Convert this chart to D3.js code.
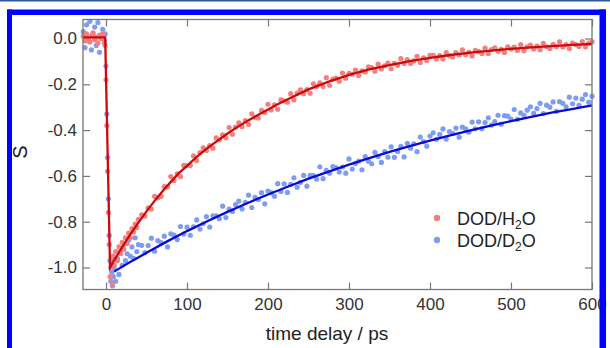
<!DOCTYPE html>
<html>
<head>
<meta charset="utf-8">
<script src="https://cdn.jsdelivr.net/npm/d3@7"></script>
<style>
  html, body { margin: 0; padding: 0; background: #fff; }
  svg { display: block; }
  text { font-family: "Liberation Sans", Arial, Helvetica, sans-serif; }
</style>
</head>
<body>
<div id="chart"></div>
<script>
// delay times (ps), shared by both series
const times = [
  -28, -26, -24, -22, -20, -18, -16, -14, -12, -10, -8, -6, -4, -2,
  -1, 0, 1, 2, 3, 4, 5, 6, 7, 8, 9, 10,
  12, 14, 16, 18, 20, 22, 24, 26, 28, 30, 32, 34, 36, 38, 40,
  44, 48, 52, 56, 60, 64, 68, 72, 76, 80, 84, 88, 92, 96, 100, 104, 108, 112, 116, 120,
  124, 128, 132, 136, 140, 144, 148, 152, 156, 160, 164, 168, 172, 176, 180, 184, 188, 192, 196, 200,
  204, 208, 212, 216, 220, 224, 228, 232, 236, 240, 244, 248, 252, 256, 260, 264, 268, 272, 276, 280,
  284, 288, 292, 296, 300, 304, 308, 312, 316, 320, 324, 328, 332, 336, 340, 344, 348, 352, 356, 360,
  364, 368, 372, 376, 380, 384, 388, 392, 396, 400, 404, 408, 412, 416, 420, 424, 428, 432, 436, 440,
  444, 448, 452, 456, 460, 464, 468, 472, 476, 480, 484, 488, 492, 496, 500, 504, 508, 512, 516, 520,
  524, 528, 532, 536, 540, 544, 548, 552, 556, 560, 564, 568, 572, 576, 580, 584, 588, 592, 596, 600
];

// DOD/H2O anisotropy S
const h2oValues = [
  0.010, -0.010, 0.020, 0.000, -0.015, 0.010, 0.025, -0.005, 0.005, -0.020, 0.015, 0.000, 0.020, -0.010,
  -0.030, -0.180, -0.380, -0.580, -0.760, -0.900, -1.040, -1.000, -0.960, -1.070, -0.950, -0.990,
  -0.930, -0.970, -0.910, -0.940, -0.890, -0.920, -0.870, -0.895, -0.850, -0.870, -0.830, -0.845, -0.810, -0.825, -0.790,
  -0.770, -0.775, -0.740, -0.745, -0.689, -0.695, -0.689, -0.647, -0.648, -0.603,
  -0.620, -0.591, -0.603, -0.554, -0.555, -0.555, -0.512, -0.533, -0.498, -0.478,
  -0.489, -0.468, -0.479, -0.434, -0.442, -0.421, -0.433, -0.389, -0.418, -0.387,
  -0.368, -0.385, -0.359, -0.375, -0.329, -0.344, -0.347, -0.314, -0.323, -0.287,
  -0.312, -0.290, -0.309, -0.268, -0.272, -0.278, -0.241, -0.268, -0.238, -0.224,
  -0.241, -0.223, -0.239, -0.198, -0.210, -0.194, -0.210, -0.171, -0.204, -0.177,
  -0.173, -0.187, -0.151, -0.173, -0.152, -0.156, -0.138, -0.162, -0.141, -0.146,
  -0.124, -0.127, -0.143, -0.112, -0.133, -0.119, -0.107, -0.132, -0.109, -0.117,
  -0.088, -0.109, -0.092, -0.109, -0.098, -0.078, -0.105, -0.084, -0.096, -0.074,
  -0.073, -0.089, -0.075, -0.090, -0.061, -0.075, -0.081, -0.061, -0.072, -0.050,
  -0.071, -0.060, -0.076, -0.052, -0.057, -0.065, -0.042, -0.065, -0.048, -0.041,
  -0.056, -0.047, -0.061, -0.036, -0.046, -0.038, -0.052, -0.027, -0.053, -0.036,
  -0.029, -0.046, -0.033, -0.049, -0.021, -0.036, -0.044, -0.025, -0.036, -0.015,
  -0.037, -0.027, -0.044, -0.020, -0.027, -0.035, -0.013, -0.037, -0.020, -0.014
];

// DOD/D2O anisotropy S
const d2oValues = [
  0.030, -0.040, 0.060, -0.010, 0.075, -0.050, 0.020, 0.050, -0.030, 0.070, -0.060, 0.010, 0.040, -0.020,
  0.020, -0.120, -0.330, -0.520, -0.700, -0.860, -0.970, -1.060, -1.020, -1.080, -1.040, -1.000,
  -1.060, -0.960, -1.030, -0.930, -0.990, -0.900, -0.970, -0.940, -0.880, -0.950, -0.910, -0.960, -0.870, -0.930, -0.900,
  -0.903, -0.935, -0.904, -0.872, -0.929, -0.883, -0.891, -0.863, -0.910, -0.853,
  -0.858, -0.878, -0.821, -0.854, -0.824, -0.859, -0.822, -0.792, -0.832, -0.809,
  -0.778, -0.823, -0.774, -0.774, -0.787, -0.732, -0.782, -0.745, -0.755, -0.725,
  -0.710, -0.744, -0.715, -0.684, -0.738, -0.694, -0.703, -0.673, -0.722, -0.666,
  -0.673, -0.689, -0.634, -0.668, -0.635, -0.672, -0.637, -0.608, -0.649, -0.628,
  -0.598, -0.645, -0.598, -0.599, -0.614, -0.560, -0.612, -0.576, -0.588, -0.559,
  -0.564, -0.583, -0.561, -0.588, -0.526, -0.570, -0.546, -0.535, -0.573, -0.516,
  -0.536, -0.547, -0.497, -0.515, -0.541, -0.494, -0.518, -0.473, -0.519, -0.493,
  -0.471, -0.517, -0.458, -0.479, -0.460, -0.494, -0.430, -0.450, -0.470, -0.426,
  -0.412, -0.440, -0.419, -0.395, -0.439, -0.406, -0.414, -0.391, -0.431, -0.387,
  -0.394, -0.409, -0.365, -0.394, -0.364, -0.394, -0.367, -0.346, -0.378, -0.363,
  -0.335, -0.374, -0.337, -0.339, -0.352, -0.310, -0.353, -0.325, -0.335, -0.313,
  -0.298, -0.327, -0.306, -0.283, -0.328, -0.291, -0.300, -0.277, -0.318, -0.276,
  -0.283, -0.298, -0.256, -0.285, -0.260, -0.292, -0.265, -0.245, -0.278, -0.252
];

// fitted curves
const h2oFitTimes = [-28, -1, 5, 10, 20, 30, 40, 50, 60, 70, 80, 90, 100, 112, 125, 137, 150, 162, 175, 187,
  200, 212, 225, 237, 250, 275, 300, 325, 350, 375, 400, 425, 450, 475, 500, 525, 550, 575, 600];
const h2oFit = [0.005, 0.005, -1.0, -0.969, -0.911, -0.855, -0.804, -0.755, -0.709, -0.666, -0.626, -0.588,
  -0.556, -0.517, -0.479, -0.448, -0.415, -0.387, -0.359, -0.335, -0.310, -0.287, -0.264, -0.244, -0.222,
  -0.188, -0.159, -0.135, -0.116, -0.099, -0.085, -0.072, -0.062, -0.053, -0.045, -0.039, -0.033, -0.028, -0.024];

const d2oFitTimes = [10, 25, 50, 75, 100, 125, 150, 175, 200, 225, 250, 275, 300, 325, 350, 375, 400,
  425, 450, 475, 500, 525, 550, 575, 600];
const d2oFit = [-1.018, -0.986, -0.936, -0.887, -0.841, -0.798, -0.757, -0.718, -0.681, -0.646, -0.612,
  -0.581, -0.551, -0.522, -0.495, -0.470, -0.446, -0.423, -0.401, -0.380, -0.361, -0.342, -0.324, -0.308, -0.292];

const xTicks = [0, 100, 200, 300, 400, 500, 600];
const yTicks = [0.0, -0.2, -0.4, -0.6, -0.8, -1.0];

const W = 610, H = 348;
const plot = { left: 83, right: 592, top: 19.5, bottom: 289.5 };

const svg = d3
  .select("#chart")
  .append("svg")
  .attr("width", W)
  .attr("height", H);

svg.append("rect").attr("width", W).attr("height", H).attr("fill", "#fff");

const x = d3.scaleLinear().domain([-28.4, 600]).range([plot.left, plot.right]);
const y = d3.scaleLinear().domain([-1.096, 0.083]).range([plot.bottom, plot.top]);

const fmt = (d) => d.toFixed(1);

function styleAxis(g) {
  g.select(".domain").remove();
  g.selectAll(".tick line").attr("stroke", "#777").attr("stroke-width", 1.2);
  g.selectAll(".tick text").attr("fill", "#333").style("font-size", "17px");
}

svg.append("g")
  .attr("transform", `translate(${plot.left},0)`)
  .call(d3.axisLeft(y).tickValues(yTicks).tickFormat(fmt).tickSize(-7).tickPadding(6))
  .call(styleAxis);

svg.append("g")
  .attr("transform", `translate(${plot.right},0)`)
  .call(d3.axisRight(y).tickValues(yTicks).tickFormat("").tickSize(-7))
  .call(styleAxis);

svg.append("g")
  .attr("transform", `translate(0,${plot.bottom})`)
  .call(d3.axisBottom(x).tickValues(xTicks).tickFormat(d3.format("d")).tickSize(-7).tickPadding(8))
  .call(styleAxis);

svg.append("g")
  .attr("transform", `translate(0,${plot.top})`)
  .call(d3.axisTop(x).tickValues(xTicks).tickFormat("").tickSize(-7))
  .call(styleAxis);

// data points
const d2oPoints = times.map((t, i) => ({ t: t, v: d2oValues[i] }));
const h2oPoints = times.map((t, i) => ({ t: t, v: h2oValues[i] }));

svg.append("g")
  .selectAll("circle")
  .data(d2oPoints)
  .join("circle")
  .attr("cx", (d) => x(d.t))
  .attr("cy", (d) => y(d.v))
  .attr("r", 2.6)
  .attr("fill", "#7f9cf3");

svg.append("g")
  .selectAll("circle")
  .data(h2oPoints)
  .join("circle")
  .attr("cx", (d) => x(d.t))
  .attr("cy", (d) => y(d.v))
  .attr("r", 2.6)
  .attr("fill", "#f47f7d");

// fit lines
const line = d3.line().x((d) => x(d[0])).y((d) => y(d[1]));

svg.append("path")
  .attr("d", line(d2oFitTimes.map((t, i) => [t, d2oFit[i]])))
  .attr("fill", "none")
  .attr("stroke", "#0a0ad0")
  .attr("stroke-width", 2.3);

svg.append("path")
  .attr("d", line(h2oFitTimes.map((t, i) => [t, h2oFit[i]])))
  .attr("fill", "none")
  .attr("stroke", "#cc0a0a")
  .attr("stroke-width", 2.3);

// frame
svg.append("rect")
  .attr("x", plot.left)
  .attr("y", plot.top)
  .attr("width", plot.right - plot.left)
  .attr("height", plot.bottom - plot.top)
  .attr("fill", "none")
  .attr("stroke", "#777")
  .attr("stroke-width", 1.3);

// axis titles
svg.append("text")
  .attr("x", 327)
  .attr("y", 340)
  .attr("text-anchor", "middle")
  .attr("fill", "#222")
  .style("font-size", "19px")
  .text("time delay / ps");

svg.append("text")
  .attr("transform", "translate(27,152) rotate(-90)")
  .attr("text-anchor", "middle")
  .attr("fill", "#222")
  .style("font-size", "20px")
  .text("S");

// legend
const legend = [
  { main: "DOD/H", sub: "2", color: "#f47f7d" },
  { main: "DOD/D", sub: "2", color: "#7f9cf3" },
];

legend.forEach((d, i) => {
  const yy = 218 + i * 22;
  svg.append("circle").attr("cx", 437).attr("cy", yy).attr("r", 3.2).attr("fill", d.color);
  const t = svg.append("text")
    .attr("x", 457)
    .attr("y", yy + 6.5)
    .attr("fill", "#222")
    .style("font-size", "18px");
  t.append("tspan").text(d.main);
  t.append("tspan").attr("dy", 4).style("font-size", "12px").text(d.sub);
  t.append("tspan").attr("dy", -4).text("O");
});

// blue page frame, drawn over everything
svg.append("rect").attr("x", 0).attr("y", 0).attr("width", W).attr("height", 1.5).attr("fill", "#2a5b95");
svg.append("rect").attr("x", 7).attr("y", 9.5).attr("width", 599).attr("height", 5.5).attr("fill", "#0000ff");
svg.append("rect").attr("x", 7).attr("y", 9.5).attr("width", 5).attr("height", H).attr("fill", "#0000ff");
svg.append("rect").attr("x", 599.5).attr("y", 9.5).attr("width", 6.5).attr("height", H).attr("fill", "#0000ff");
</script>
</body>
</html>
